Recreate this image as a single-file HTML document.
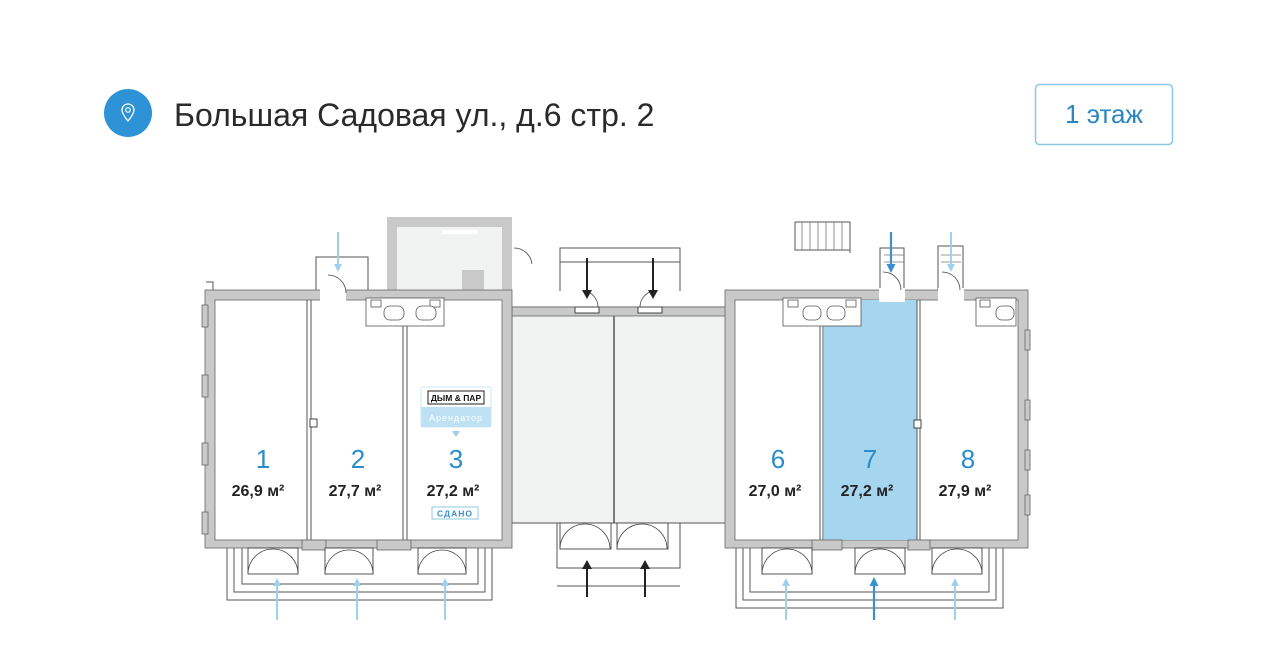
<!DOCTYPE html>
<html><head><meta charset="utf-8"><style>
html,body{margin:0;padding:0;background:#fff;width:1280px;height:669px;overflow:hidden}
svg{display:block}
text{font-family:"Liberation Sans",sans-serif}
</style></head><body>
<svg width="1280" height="669" viewBox="0 0 1280 669" xmlns="http://www.w3.org/2000/svg">
<defs>
<marker id="ab" markerWidth="8" markerHeight="8" refX="4" refY="4" orient="auto" markerUnits="userSpaceOnUse"><path d="M0,0 L8,4 L0,8 z" fill="#9fd0ee"/></marker>
<marker id="ad" markerWidth="9" markerHeight="9" refX="4" refY="4.5" orient="auto" markerUnits="userSpaceOnUse"><path d="M0,0 L9,4.5 L0,9 z" fill="#3a8fcf"/></marker>
<marker id="ak" markerWidth="9" markerHeight="10" refX="4" refY="5" orient="auto" markerUnits="userSpaceOnUse"><path d="M0,0 L9,5 L0,10 z" fill="#222"/></marker>
</defs>
<circle cx="128" cy="113" r="24" fill="#2d93d6"/>
<path d="M128,104 a6,6 0 0 1 6,6 c0,4 -6,11 -6,11 c0,0 -6,-7 -6,-11 a6,6 0 0 1 6,-6z" fill="none" stroke="#fff" stroke-width="1.3"/>
<circle cx="128" cy="110" r="2.3" fill="none" stroke="#fff" stroke-width="1.2"/>
<text x="174" y="126" font-size="32" fill="#2a2a2a">Большая Садовая ул., д.6 стр. 2</text>
<rect x="1035.5" y="84.5" width="137" height="60" rx="4" fill="#fff" stroke="#8cc9e6" stroke-width="1.5"/>
<text x="1104" y="123" font-size="26" fill="#2a86c0" text-anchor="middle">1 этаж</text>

<g fill="none" stroke="#555" stroke-width="1">
<path d="M227,548 V600 H492 V548"/><path d="M234,548 V592 H485 V548"/><path d="M242,548 V584 H478 V548"/>
<path d="M736,548 V608 H1003 V548"/><path d="M743,548 V600 H996 V548"/><path d="M750,548 V592 H989 V548"/>
<path d="M557,522 V568 M557,568 H680 V522"/><path d="M557,586 H680"/>
<path d="M560,291 V248 H680 V291"/><path d="M560,262 H680"/>
<path d="M316,291 V257 H368 V291"/>
<path d="M795,222 H850 V253"/><path d="M795,222 V250 H850"/>
<path d="M880,290 V248 H904 V290"/><path d="M938,290 V246 H963 V290"/>
<path d="M213,290 V282 H206"/>
</g>
<g stroke="#777" stroke-width="0.8">
<path d="M802,222V250M810,222V250M818,222V250M826,222V250M834,222V250M842,222V250"/>
<path d="M222,425 H253 M222,433H253M222,441H253M222,449H253M222,457H253M222,465H253M222,473H253M222,481H253"/>
<path d="M222,420 L253,414 V482 M222,420 V482"/>
<path d="M884,255H904M884,262H904M941,255H961M941,262H961"/>
</g>

<rect x="512" y="307" width="215" height="216" fill="#f1f2f2" stroke="#555" stroke-width="1"/>
<rect x="512" y="307" width="215" height="9" fill="#c9c9c9" stroke="#666" stroke-width="0.8"/>
<line x1="614" y1="316" x2="614" y2="523" stroke="#555" stroke-width="1.5"/>
<rect x="575" y="307" width="24" height="6" fill="#fff" stroke="#444"/><rect x="638" y="307" width="24" height="6" fill="#fff" stroke="#444"/>

<rect x="387" y="217" width="125" height="74" fill="#c9c9c9"/>
<rect x="397" y="227" width="105" height="64" fill="#f1f2f2"/>
<rect x="462" y="270" width="22" height="22" fill="#c9c9c9"/>
<rect x="442" y="230" width="35" height="4" fill="#fff"/>

<rect x="205" y="290" width="307" height="258" fill="#c9c9c9" stroke="#666" stroke-width="0.8"/>
<rect x="215" y="300" width="287" height="240" fill="#fff" stroke="#666" stroke-width="0.8"/>
<rect x="320" y="288" width="26" height="14" fill="#fff"/>
<rect x="725" y="290" width="303" height="258" fill="#c9c9c9" stroke="#666" stroke-width="0.8"/>
<rect x="735" y="300" width="283" height="240" fill="#fff" stroke="#666" stroke-width="0.8"/>
<rect x="824" y="300" width="93" height="240" fill="#a6d5f0"/>
<rect x="879" y="288" width="26" height="14" fill="#fff"/><rect x="938" y="288" width="26" height="14" fill="#fff"/>

<g stroke="#555" stroke-width="1" fill="none">
<path d="M307,300V540M311,300V540M403,300V540M407,300V540"/>
<path d="M820,300V540M823,300V540M917,300V540M920,300V540"/>
</g>
<rect x="310" y="419" width="7" height="8" fill="#fff" stroke="#444"/>
<rect x="914" y="420" width="7" height="8" fill="#fff" stroke="#444"/>
<g fill="#c9c9c9" stroke="#666" stroke-width="0.8">
<rect x="202" y="305" width="6" height="22"/><rect x="202" y="375" width="6" height="22"/><rect x="202" y="443" width="6" height="22"/><rect x="202" y="512" width="6" height="22"/>
<rect x="1025" y="330" width="5" height="20"/><rect x="1025" y="400" width="5" height="20"/><rect x="1025" y="450" width="5" height="20"/><rect x="1025" y="495" width="5" height="20"/>
<rect x="302" y="540" width="24" height="10"/><rect x="377" y="540" width="34" height="10"/><rect x="812" y="540" width="30" height="10"/><rect x="908" y="540" width="22" height="10"/>
</g>
<g fill="#fff" stroke="#444" stroke-width="0.9">
<rect x="248" y="548" width="50" height="26"/><rect x="325" y="548" width="48" height="26"/><rect x="418" y="548" width="48" height="26"/>
<rect x="762" y="548" width="50" height="26"/><rect x="855" y="548" width="50" height="26"/><rect x="932" y="548" width="50" height="26"/>
<rect x="560" y="523" width="51" height="26"/><rect x="617" y="523" width="51" height="26"/>
</g>
<g fill="none" stroke="#444" stroke-width="0.8">
<path d="M248,574 A25,25 0 0 1 273,549 A25,25 0 0 1 298,574"/>
<path d="M325,574 A24,24 0 0 1 349,550 A24,24 0 0 1 373,574"/>
<path d="M418,574 A24,24 0 0 1 442,550 A24,24 0 0 1 466,574"/>
<path d="M762,574 A25,25 0 0 1 787,549 A25,25 0 0 1 812,574"/>
<path d="M855,574 A25,25 0 0 1 880,549 A25,25 0 0 1 905,574"/>
<path d="M932,574 A25,25 0 0 1 957,549 A25,25 0 0 1 982,574"/>
<path d="M560,549 A25,25 0 0 1 585,524 A25,25 0 0 1 610,549"/>
<path d="M617,549 A25,25 0 0 1 642,524 A25,25 0 0 1 667,549"/>
<path d="M328,275 A18,18 0 0 1 346,293"/><path d="M514,248 A18,18 0 0 1 532,264"/>
<path d="M598,307 A16,16 0 0 0 584,291"/><path d="M640,307 A16,16 0 0 1 654,291"/>
<path d="M883,272 A18,18 0 0 1 901,290"/><path d="M942,272 A18,18 0 0 1 960,290"/>
</g>
<g fill="#fff" stroke="#555" stroke-width="0.8">
<rect x="366" y="298" width="78" height="28"/><rect x="371" y="300" width="10" height="7"/><rect x="430" y="300" width="10" height="7"/>
<rect x="384" y="306" width="20" height="14" rx="6"/><rect x="416" y="306" width="20" height="14" rx="6"/>
<rect x="783" y="298" width="78" height="28"/><rect x="788" y="300" width="10" height="7"/><rect x="846" y="300" width="10" height="7"/>
<rect x="803" y="306" width="18" height="14" rx="6"/><rect x="827" y="306" width="18" height="14" rx="6"/>
<rect x="976" y="298" width="40" height="28"/><rect x="980" y="300" width="10" height="7"/><rect x="996" y="306" width="18" height="14" rx="6"/>
</g>

<g stroke="#9fd0ee" stroke-width="2">
<line x1="277" y1="620" x2="277" y2="582" marker-end="url(#ab)"/>
<line x1="357" y1="620" x2="357" y2="582" marker-end="url(#ab)"/>
<line x1="445" y1="620" x2="445" y2="582" marker-end="url(#ab)"/>
<line x1="786" y1="620" x2="786" y2="582" marker-end="url(#ab)"/>
<line x1="955" y1="620" x2="955" y2="582" marker-end="url(#ab)"/>
<line x1="338" y1="232" x2="338" y2="268" marker-end="url(#ab)"/>
<line x1="951" y1="232" x2="951" y2="268" marker-end="url(#ab)"/>
</g>
<g stroke="#3a8fcf" stroke-width="2.2">
<line x1="874" y1="620" x2="874" y2="582" marker-end="url(#ad)"/>
<line x1="891" y1="232" x2="891" y2="268" marker-end="url(#ad)"/>
</g>
<g stroke="#222" stroke-width="2">
<line x1="587" y1="258" x2="587" y2="294" marker-end="url(#ak)"/>
<line x1="653" y1="258" x2="653" y2="294" marker-end="url(#ak)"/>
<line x1="587" y1="597" x2="587" y2="565" marker-end="url(#ak)"/>
<line x1="645" y1="597" x2="645" y2="565" marker-end="url(#ak)"/>
</g>

<rect x="421" y="387" width="70" height="40" rx="2" fill="#fff" stroke="#cfe7f5"/>
<rect x="421" y="407" width="70" height="20" fill="#bfe1f4"/>
<rect x="428" y="391" width="56" height="13" fill="#fff" stroke="#222"/>
<text x="456" y="401" font-size="8.5" font-weight="bold" fill="#111" text-anchor="middle" font-family="Liberation Serif">ДЫМ &amp; ПАР</text>
<text x="456" y="421" font-size="9" fill="#fff" text-anchor="middle" letter-spacing="1">Арендатор</text>
<path d="M452,431 L460,431 L456,437z" fill="#9fd0ee"/>
<rect x="432" y="507" width="46" height="12" fill="#fff" stroke="#8cc9e6"/>
<text x="455" y="516.5" font-size="8.5" fill="#3a8fcf" text-anchor="middle" font-weight="bold" letter-spacing="1">СДАНО</text>

<g font-size="26" fill="#2a8cc8" text-anchor="middle">
<text x="263" y="468">1</text><text x="358" y="468">2</text><text x="456" y="468">3</text>
<text x="778" y="468">6</text><text x="870" y="468">7</text><text x="968" y="468">8</text>
</g>
<g font-size="16" font-weight="bold" fill="#222" text-anchor="middle">
<text x="258" y="496">26,9 м²</text><text x="355" y="496">27,7 м²</text><text x="453" y="496">27,2 м²</text>
<text x="775" y="496">27,0 м²</text><text x="867" y="496">27,2 м²</text><text x="965" y="496">27,9 м²</text>
</g>
</svg>
</body></html>
